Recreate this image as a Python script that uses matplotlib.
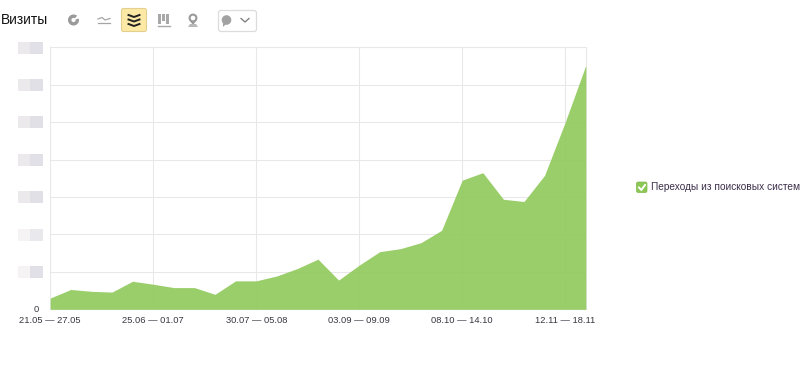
import matplotlib
matplotlib.use("Agg")
import matplotlib.pyplot as plt
from matplotlib.patches import FancyBboxPatch, Rectangle, Circle, Wedge, Polygon
from matplotlib.lines import Line2D

plt.rcParams['font.family'] = ['Liberation Sans', 'DejaVu Sans']

title = "Визиты"
series_name = "Переходы из поисковых систем"
week_index = list(range(27))
visits = [30, 53, 48, 46, 75, 67, 58, 58, 40, 76, 76, 89, 109, 134, 78, 118, 154,
          162, 178, 211, 345, 365, 294, 288, 358, 500, 652]
tick_positions = [0, 5, 10, 15, 20, 25]
tick_labels = ["21.05 — 27.05", "25.06 — 01.07", "30.07 — 05.08",
               "03.09 — 09.09", "08.10 — 14.10", "12.11 — 18.11"]
y_grid = [0, 100, 200, 300, 400, 500, 600, 700]

W, H = 800, 368
fig = plt.figure(figsize=(W / 100, H / 100), dpi=100, facecolor="white")
L, R, T, B = 50.2, 585.8, 47.3, 309.3
ax = fig.add_axes([L / W, 1 - B / H, (R - L) / W, (B - T) / H])
ax.fill_between(week_index, visits, 0, color="#8fc95a", alpha=0.9, lw=0, zorder=3)
ax.set_xlim(0, 26)
ax.set_ylim(0, 700)
ax.set_yticks(y_grid)
ax.set_xticks(tick_positions)
ax.set_xticklabels(tick_labels, fontsize=6.75, color="#3a3540")
ax.set_yticklabels([])
ax.tick_params(length=0, pad=5)
ax.grid(True, color="#e8e8e8", lw=0.75, zorder=1)
ax.set_axisbelow(True)
for s in ax.spines.values():
    s.set_color("#e8e8e8")
    s.set_linewidth(0.75)

over = fig.add_axes([0, 0, 1, 1], facecolor="none")
over.set_xlim(0, W)
over.set_ylim(H, 0)
over.axis("off")

over.text(0.5, 20, title, fontsize=9.9, color="#111111", va="center", ha="left")
fig.text(36 / W, 1 - 309 / H, "0", fontsize=6.75, color="#3a3540", ha="center", va="center")

# blurred y tick labels
for i, yc in enumerate([48, 85, 122, 160, 197, 234.5, 271.5]):
    fade = i >= 5
    over.add_patch(Rectangle((18, yc - 6), 12, 12, fc="#f5f3f4" if fade else "#ebe9eb", lw=0))
    over.add_patch(Rectangle((30, yc - 6), 12.5, 12, fc="#e9e8ec" if i == 5 else "#e1e0e6", lw=0))

# toolbar: pie icon
g = "#9a9a9a"
over.add_patch(Wedge((73.5, 20), 5.5, 0, 360, width=3.4, fc=g, lw=0))
over.add_patch(Wedge((73.5, 20), 6, -50, -15, fc="white", lw=0))
# line icon
over.add_line(Line2D([98, 102, 105, 110], [19, 17.5, 20, 18.5], color="#a5a5a5", lw=0.9))
over.add_line(Line2D([98, 110], [23, 23], color="#a5a5a5", lw=0.9))
# active area button
over.add_patch(FancyBboxPatch((121.5, 8.5), 25, 23, boxstyle="round,pad=0,rounding_size=2",
                              fc="#fde9a6", ec="#e3d08e", lw=0.8))
for y0 in (15, 19.5, 24):
    over.add_line(Line2D([128.5, 134, 139.5], [y0, y0 + 2, y0], color="#222222", lw=1.4))
# bars icon
for x0, y0, h0 in [(158, 14, 10), (162, 14, 7), (166, 14, 10)]:
    over.add_patch(Rectangle((x0, y0), 3.2, h0, fc="#a8a8a8", lw=0))
over.add_line(Line2D([158, 170], [26, 26], color="#a8a8a8", lw=1))
# map pin icon
over.add_patch(Circle((193, 18), 3.4, fc="white", ec="#9a9a9a", lw=1.5))
over.add_patch(Polygon([[190, 21], [196, 21], [193, 25]], fc="#9a9a9a", lw=0))
over.add_patch(Polygon([[188, 27], [198, 27], [196, 24], [190, 24]], fc="#b8b8b8", lw=0))
# dropdown
over.add_patch(FancyBboxPatch((218.5, 10.5), 38, 21, boxstyle="round,pad=0,rounding_size=2.5",
                              fc="white", ec="#dcdcdc", lw=0.9))
over.add_patch(Circle((226.5, 20), 4.8, fc="#a2a2a2", lw=0))
over.add_patch(Polygon([[223, 23], [226, 24], [223, 27]], fc="#a2a2a2", lw=0))
over.add_line(Line2D([241, 245, 249], [18.5, 22, 18.5], color="#777777", lw=0.9))

# legend
over.add_patch(FancyBboxPatch((636.5, 182), 10.5, 10.5, boxstyle="round,pad=0,rounding_size=1.8",
                              fc="#8cc654", ec="#7fb84a", lw=0.5))
over.add_line(Line2D([639, 641.3, 645], [187.5, 190, 185], color="white", lw=1.4))
over.text(651, 187.5, series_name, fontsize=7.28, color="#3c2f4a", va="center", ha="left")

fig.savefig("out.png", dpi=100, facecolor="white")
